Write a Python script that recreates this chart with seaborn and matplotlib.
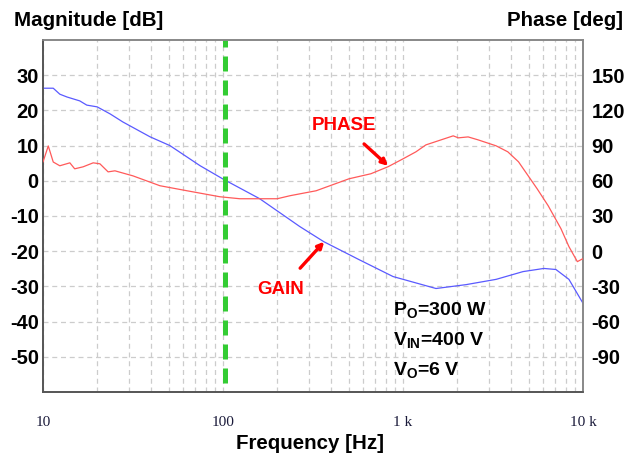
import numpy as np
import pandas as pd
import matplotlib
matplotlib.use("Agg")
import matplotlib.pyplot as plt
import seaborn as sns
from matplotlib.ticker import FixedLocator, NullFormatter

# Loop gain magnitude (dB) vs frequency (Hz)
gain_freq = [10, 11.4, 12.4, 13.6, 16.0, 17.5, 20, 23.6, 27.8, 39.3, 50.7, 74.5, 100,
             160, 267, 363, 570, 880, 1525, 2240, 3290, 4640, 6060, 7070, 8350, 10000]
gain_db = [26.3, 26.3, 24.6, 23.8, 22.7, 21.5, 21.0, 19.0, 16.7, 12.5, 10.0, 4.3, 0.5,
           -5.1, -13.0, -17.3, -22.4, -27.2, -30.6, -29.5, -28.0, -25.8, -24.9, -25.2, -28.0, -34.8]

# Loop phase (deg) vs frequency (Hz)
phase_freq = [10, 10.7, 11.4, 12.4, 14.1, 15.0, 16.7, 19.0, 20.7, 23.0, 25.1, 31.6, 44.6,
              63.1, 96, 124, 200, 236, 329, 501, 663, 826, 1000, 1180, 1340, 1900, 2030,
              2300, 2610, 3290, 3820, 4380, 5560, 6400, 7540, 8350, 9300, 10000]
phase_deg = [76, 89.7, 76, 72.8, 75.3, 70.2, 71.9, 75.3, 74.5, 67.6, 68.5, 64.2, 55.8,
             51.5, 46.4, 44.7, 44.7, 47.3, 51.5, 61.7, 66, 72, 78.7, 84.7, 90.6, 98.3, 96.6,
             97.4, 94.9, 89.8, 84.7, 76.2, 53.2, 38.8, 19.2, 3.9, -8.9, -6.3]

crossover_hz = 102

mag_ticks = [-50, -40, -30, -20, -10, 0, 10, 20, 30]
phase_ticks = [-90, -60, -30, 0, 30, 60, 90, 120, 150]
freq_ticks = [10, 100, 1000, 10000]
freq_labels = ["10", "100", "1 k", "10 k"]

sns.set_theme(style="white")
plt.rcParams["font.family"] = ["Liberation Sans", "DejaVu Sans"]
plt.rcParams["mathtext.fontset"] = "custom"
plt.rcParams["mathtext.rm"] = "Liberation Sans:bold"
plt.rcParams["mathtext.bf"] = "Liberation Sans:bold"
plt.rcParams["mathtext.it"] = "Liberation Sans:bold"
for key in ("text.color", "axes.labelcolor", "xtick.color", "ytick.color"):
    plt.rcParams[key] = "black"

fig = plt.figure(figsize=(6.36, 4.58), dpi=100)
ax = fig.add_axes([0.0676, 0.1441, 0.8491, 0.7686])
ax2 = ax.twinx()

gain_df = pd.DataFrame({"f": gain_freq, "dB": gain_db})
phase_df = pd.DataFrame({"f": phase_freq, "deg": phase_deg})

sns.lineplot(data=gain_df, x="f", y="dB", ax=ax, color="#5a5aff", linewidth=0.9, zorder=3)
sns.lineplot(data=phase_df, x="f", y="deg", ax=ax2, color="#ff5a5a", linewidth=0.9, zorder=3)

for a in (ax, ax2):
    a.set_xscale("log")
    a.set_xlim(10, 10000)
ax.set_ylim(-60, 40)
ax2.set_ylim(-120, 180)

# log-frequency grid with minor decades
minor = [m * 10 ** d for d in range(1, 4) for m in range(2, 10)]
ax.xaxis.set_major_locator(FixedLocator(freq_ticks))
ax.xaxis.set_minor_locator(FixedLocator(minor))
ax.xaxis.set_minor_formatter(NullFormatter())
ax.set_xticklabels(freq_labels, family="Liberation Serif", fontsize=11, color="#1a1a3a")
ax.set_yticks(mag_ticks)
ax.set_yticklabels([str(v) for v in mag_ticks], fontsize=14.5, fontweight="bold")
ax2.set_yticks(phase_ticks)
ax2.set_yticklabels([str(v) for v in phase_ticks], fontsize=14.5, fontweight="bold")
ax.grid(True, which="both", axis="x", color="#cccccc", linestyle=(0, (4, 3)), linewidth=0.9)
ax.grid(True, which="major", axis="y", color="#cccccc", linestyle=(0, (4, 3)), linewidth=0.9)
ax.tick_params(axis="both", which="both", length=0)
ax.tick_params(axis="x", pad=17)
ax.tick_params(axis="y", pad=3)
ax2.tick_params(axis="y", length=0, pad=6)
ax.set_xlabel("")
ax.set_ylabel("")
ax2.set_ylabel("")
ax.set_axisbelow(True)

for a in (ax, ax2):
    for s in a.spines.values():
        s.set_color("#888888")
        s.set_linewidth(1.2)
    a.spines["left"].set_color("#555555")
    a.spines["bottom"].set_color("#555555")

# crossover marker
ax.vlines(crossover_hz, -57.5, 40, colors="#33cc33", linewidth=3.6,
          linestyles=(0, (3.0, 1.8)), zorder=4)

# axis titles
fig.text(0.022, 0.955, "Magnitude [dB]", fontsize=14.8, fontweight="bold", va="center", ha="left")
fig.text(0.98, 0.955, "Phase [deg]", fontsize=14.8, fontweight="bold", va="center", ha="right")
fig.text(0.488, 0.032, "Frequency [Hz]", fontsize=14.8, fontweight="bold", va="center", ha="center")

# curve labels
ax2.annotate("PHASE", xy=(827, 72.7), xytext=(470, 107),
             fontsize=13.5, fontweight="bold", color="#ff0000", ha="center", va="center",
             arrowprops=dict(arrowstyle="-|>", color="#ff0000", lw=2.4, mutation_scale=9,
                             shrinkA=7, shrinkB=0))
ax.annotate("GAIN", xy=(365, -17.3), xytext=(210, -30.8),
            fontsize=13.5, fontweight="bold", color="#ff0000", ha="center", va="center",
            arrowprops=dict(arrowstyle="-|>", color="#ff0000", lw=2.4, mutation_scale=9,
                            shrinkA=9, shrinkB=0))

# operating point
for y, txt in [(-36.8, r"P$_\mathrm{O}$=300 W"), (-45.3, r"V$_\mathrm{IN}$=400 V"),
               (-53.8, r"V$_\mathrm{O}$=6 V")]:
    ax.text(880, y, txt, fontsize=14, fontweight="bold", ha="left", va="center")

fig.savefig("out.png", dpi=100)
